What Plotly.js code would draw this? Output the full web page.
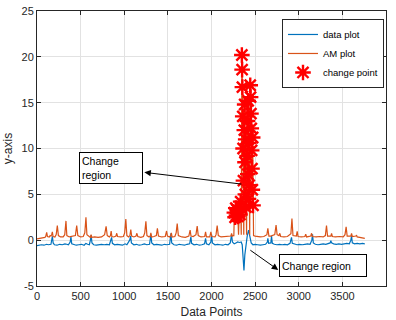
<!DOCTYPE html>
<html>
<head>
<meta charset="utf-8">
<script src="https://cdn.plot.ly/plotly-3.0.1.min.js"></script>
<style>html,body{margin:0;padding:0;background:#fff;}#chart{width:396px;height:320px;}</style>
</head>
<body>
<div id="chart"></div>
<script>
// ---- data plot (blue) ----
var dataX = [0,20,50,80,110,130,160,170,176,185,200,230,260,290,320,340,360,380,389,398,420,450,480,510,540,560,580,600,612,620,630,650,680,710,740,770,800,830,848,855,864,890,920,950,980,1010,1030,1062,1073,1082,1110,1140,1170,1200,1230,1260,1290,1298,1306,1315,1340,1370,1400,1430,1460,1490,1520,1528,1535,1544,1570,1600,1630,1660,1690,1720,1750,1757,1764,1772,1800,1830,1860,1890,1920,1932,1942,1970,1992,2001,2010,2040,2070,2100,2130,2160,2190,2215,2223,2230,2240,2260,2280,2300,2320,2340,2352,2362,2372,2382,2395,2410,2425,2440,2455,2475,2500,2530,2560,2590,2620,2640,2646,2655,2680,2688,2697,2720,2750,2780,2810,2840,2870,2900,2910,2917,2926,2950,2980,3010,3040,3070,3100,3130,3150,3158,3167,3190,3220,3250,3280,3310,3340,3360,3368,3376,3400,3430,3460,3490,3520,3550,3580,3597,3605,3614,3640,3670,3700,3730,3757];
var dataY = [-0.6,-0.55,-0.5,-0.55,-0.45,-0.5,-0.45,0.1,0.43,-0.3,-0.5,-0.55,-0.45,-0.5,-0.4,-0.45,-0.5,-0.2,0.36,-0.4,-0.5,-0.55,-0.5,-0.45,-0.55,-0.35,-0.45,-0.5,0.0,0.55,-0.3,-0.5,-0.55,-0.5,-0.45,-0.5,-0.45,-0.5,0.0,0.3,-0.35,-0.5,-0.45,-0.5,-0.55,-0.4,-0.5,0.0,0.45,-0.3,-0.5,-0.45,-0.55,-0.5,-0.4,-0.5,-0.45,0.1,0.6,-0.3,-0.5,-0.45,-0.5,-0.55,-0.45,-0.5,-0.45,0.2,0.75,-0.3,-0.5,-0.55,-0.45,-0.5,-0.55,-0.45,-0.4,0.0,0.35,-0.35,-0.5,-0.45,-0.55,-0.5,-0.4,0.2,-0.4,-0.5,-0.2,0.6,-0.3,-0.5,-0.45,-0.5,-0.55,-0.45,-0.5,-0.3,0.2,0.6,-0.2,-0.4,-0.3,-0.2,-0.25,-0.2,-0.5,-1.8,-3.3,-1.6,-0.2,0.5,1.1,0.4,-0.3,-0.5,-0.45,-0.5,-0.55,-0.5,-0.45,-0.2,0.2,-0.35,-0.3,0.45,-0.35,-0.45,-0.5,-0.45,-0.5,-0.45,-0.5,-0.35,0.0,0.3,-0.35,-0.45,-0.5,-0.45,-0.5,-0.45,-0.4,-0.45,0.0,0.65,-0.3,-0.45,-0.5,-0.45,-0.4,-0.45,-0.4,-0.3,-0.05,-0.3,-0.4,-0.45,-0.4,-0.45,-0.4,-0.35,-0.4,0.0,0.45,-0.3,-0.4,-0.35,-0.4,-0.35,-0.4];

// ---- AM plot (orange) ----
var amX = [0,30,60,90,100,111,120,140,150,160,168,176,184,205,220,233,245,270,300,318,332,342,370,400,440,455,468,500,530,548,561,572,600,612,620,628,660,700,740,775,792,805,830,842,850,858,880,905,914,923,960,990,1005,1018,1030,1050,1065,1075,1085,1110,1135,1145,1155,1190,1220,1235,1248,1260,1285,1298,1305,1313,1340,1368,1380,1392,1430,1470,1485,1495,1520,1532,1540,1548,1580,1595,1607,1620,1660,1700,1740,1755,1765,1790,1822,1836,1848,1880,1922,1932,1942,1980,1993,2003,2040,2052,2065,2078,2110,2150,2190,2222,2230,2238,2250,
 2256,2262,2270,2278,2286,2294,2302,2310,2318,2326,2334,2341,2348,2351,2354,2358,2362,2366,2370,2376,2380,2384,2388,2392,2396,2402,2408,2412,2416,2420,2424,2428,2432,2438,2444,2448,2452,2456,2460,2464,2468,2472,2476,2482,2500,
 2530,2560,2600,2635,2646,2658,2680,2725,2740,2752,2773,2783,2793,2830,2870,2910,2922,2934,2972,2982,2992,3030,3070,3080,3090,3138,3147,3156,3200,3240,3280,3305,3318,3330,3368,3376,3385,3420,3470,3510,3530,3543,3555,3597,3605,3614,3655,3662,3670,3710,3757];
var amY = [0.15,0.2,0.25,0.3,0.4,0.85,0.4,0.35,0.5,0.45,0.6,0.9,0.4,0.35,0.6,1.6,0.5,0.35,0.35,0.6,2.1,0.5,0.35,0.4,0.5,1.6,0.5,0.35,0.4,0.8,2.5,0.6,0.4,0.3,0.6,0.3,0.35,0.3,0.35,0.6,1.5,0.5,0.35,0.5,1.0,0.4,0.35,0.45,0.75,0.4,0.35,0.4,0.8,2.3,0.5,0.35,0.5,1.15,0.45,0.35,0.45,0.75,0.4,0.3,0.4,0.8,2.05,0.5,0.35,0.45,0.8,0.35,0.4,0.5,1.3,0.45,0.35,0.4,1.0,0.45,0.35,0.5,0.8,0.35,0.4,0.8,1.8,0.5,0.35,0.3,0.45,1.1,0.45,0.4,0.6,1.55,0.5,0.35,0.4,0.9,0.35,0.35,0.9,0.4,0.35,0.6,1.6,0.5,0.35,0.4,0.45,0.45,0.75,0.45,0.5,
 0.5,3.0,2.5,3.5,2.7,3.3,2.6,0.6,3.1,2.8,4.2,0.6,20.2,18.6,16.7,13.5,10.0,6.5,0.6,12.0,14.8,8.5,5.0,11.0,3.6,0.6,9.2,13.0,7.2,15.2,4.5,10.6,6.0,0.6,16.9,15.6,13.8,12.2,9.8,7.8,5.5,11.2,3.8,0.5,0.45,
 0.4,0.35,0.4,0.6,1.3,0.45,0.45,0.6,1.65,0.6,0.5,0.75,0.4,0.35,0.4,0.7,2.35,0.5,0.45,0.95,0.4,0.35,0.4,0.65,0.35,0.45,0.75,0.4,0.35,0.4,0.35,0.5,1.6,0.45,0.45,0.75,0.4,0.35,0.4,0.35,0.6,1.45,0.45,0.45,0.75,0.4,0.45,0.55,0.35,0.3,0.2];

// ---- change points (red asterisks, on the AM plot) ----
var cpX = [2262,2270,2278,2286,2294,2302,2318,2326,2334,2348,2351,2354,2358,2362,2366,2376,2380,2384,2388,2392,2396,2408,2412,2416,2420,2424,2428,2432,2444,2448,2452,2456,2460,2464,2468,2472,2476];
var cpY = [3.0,2.5,3.5,2.7,3.3,2.6,3.1,2.8,4.2,20.2,18.6,16.7,13.5,10.0,6.5,12.0,14.8,8.5,5.0,11.0,3.6,9.2,13.0,7.2,15.2,4.5,10.6,6.0,16.9,15.6,13.8,12.2,9.8,7.8,5.5,11.2,3.8];

// ---- axes ----
var xTicks = [0,500,1000,1500,2000,2500,3000,3500,4000];
var yTicks = [-5,0,5,10,15,20,25];
var seriesNames = ['data plot','AM plot','change point'];
var xLabel = 'Data Points';
var yLabel = 'y-axis';
var noteLeft = 'Change<br>region';
var noteRight = 'Change region';

var ink = '#262626';
var font = 'Liberation Sans, Arial, Helvetica, sans-serif';

var traces = [
  {x: dataX, y: dataY, type: 'scatter', mode: 'lines', name: seriesNames[0],
   line: {color: '#0072BD', width: 1.2}},
  {x: amX, y: amY, type: 'scatter', mode: 'lines', name: seriesNames[1],
   line: {color: '#D95319', width: 1.2}},
  {x: cpX, y: cpY, type: 'scatter', mode: 'markers', name: seriesNames[2],
   marker: {symbol: 'asterisk-open', size: 13, color: '#FF0000',
            line: {color: '#FF0000', width: 2.4}}}
];

function axis(vals, range, title) {
  return {
    range: range, tickvals: vals, ticktext: vals.map(String),
    showgrid: true, gridcolor: '#e2e2e2', gridwidth: 1,
    zeroline: false, showline: true, linecolor: ink, linewidth: 1,
    mirror: 'allticks', ticks: 'inside', ticklen: 4, tickcolor: ink,
    tickfont: {family: font, size: 11, color: ink},
    title: {text: title, font: {family: font, size: 12, color: ink}, standoff: 6}
  };
}

var layout = {
  width: 396, height: 320,
  margin: {l: 37, r: 10, t: 11, b: 34},
  paper_bgcolor: '#fff', plot_bgcolor: '#fff',
  xaxis: axis(xTicks, [0, 4000], xLabel),
  yaxis: axis(yTicks, [-5, 25], yLabel),
  showlegend: true,
  legend: {x: 0.702, y: 0.971, xanchor: 'left', yanchor: 'top',
           bgcolor: '#fff', bordercolor: ink, borderwidth: 1,
           font: {family: font, size: 9.5, color: '#000'},
           tracegroupgap: 0, itemwidth: 30},
  annotations: [
    {x: 848, y: 7.85, xref: 'x', yref: 'y', text: noteLeft, showarrow: false,
     align: 'left', width: 58, height: 26, borderpad: 2, bordercolor: '#000', borderwidth: 1,
     bgcolor: '#fff', font: {family: font, size: 10.5, color: '#000'}},
    {x: 1230, y: 7.4, ax: 2360, ay: 6.1, xref: 'x', yref: 'y', axref: 'x', ayref: 'y',
     text: '', showarrow: true, arrowhead: 2, arrowsize: 1.3, arrowwidth: 1, arrowcolor: '#000'},
    {x: 3276, y: -2.73, xref: 'x', yref: 'y', text: noteRight, showarrow: false,
     align: 'left', width: 82, height: 17, borderpad: 2, bordercolor: '#000', borderwidth: 1,
     bgcolor: '#fff', font: {family: font, size: 10.5, color: '#000'}},
    {x: 2765, y: -3.25, ax: 2428, ay: -0.98, xref: 'x', yref: 'y', axref: 'x', ayref: 'y',
     text: '', showarrow: true, arrowhead: 2, arrowsize: 1.3, arrowwidth: 1, arrowcolor: '#000'}
  ]
};

Plotly.newPlot('chart', traces, layout, {staticPlot: true, displayModeBar: false});
</script>
</body>
</html>
